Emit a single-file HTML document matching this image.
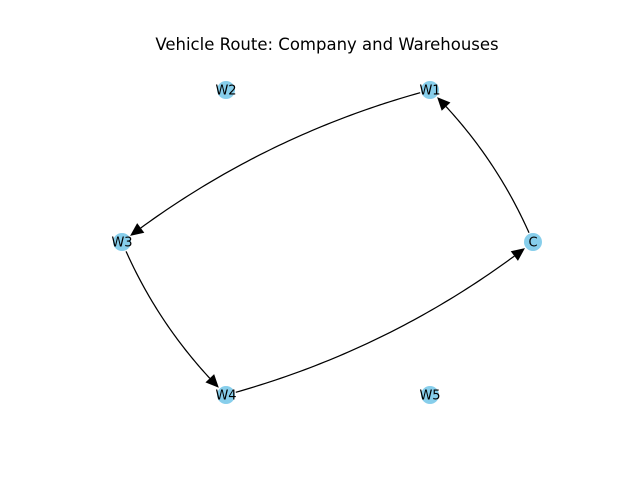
<!DOCTYPE html>
<html><head><meta charset="utf-8"><style>
body{margin:0;background:#fff}
svg{display:block}
text{font-family:"DejaVu Sans","Liberation Sans",sans-serif}
</style></head><body>
<svg id="chart" width="640" height="480" viewBox="0 0 640 480">
<rect width="640" height="480" fill="#fff"/>
<text x="327" y="50" text-anchor="middle" font-size="16.5" fill="#000">Vehicle Route: Company and Warehouses</text>
<g id="edges"></g><g id="nodes"></g>
</svg>
<script>
const nodeNames = ["C","W1","W2","W3","W4","W5"];
const nodeX = [533,430,226,122,226,430];
const nodeY = [242,90,90,242,395,395];
const edgeFrom = ["C","W1","W3","W4"];
const edgeTo = ["W1","W3","W4","C"];
const rad = 0.1;
const NS="http://www.w3.org/2000/svg";
const eg=document.getElementById('edges'), ng=document.getElementById('nodes');
function pos(n){const i=nodeNames.indexOf(n);return [nodeX[i],nodeY[i]];}
edgeFrom.forEach((f,k)=>{
  const [x1,y1]=pos(f),[x2,y2]=pos(edgeTo[k]);
  const Y1=480-y1,Y2=480-y2,dx=x2-x1,dy=Y2-Y1;
  const cx=(x1+x2)/2+rad*dy, cY=(Y1+Y2)/2-rad*dx, cy=480-cY;
  const P=t=>[(1-t)*(1-t)*x1+2*(1-t)*t*cx+t*t*x2,(1-t)*(1-t)*y1+2*(1-t)*t*cy+t*t*y2];
  let ts=0,te=1;
  for(let t=0;t<=1;t+=0.001){const p=P(t);if(Math.hypot(p[0]-x1,p[1]-y1)>=10){ts=t;break;}}
  for(let t=1;t>=0;t-=0.001){const p=P(t);if(Math.hypot(p[0]-x2,p[1]-y2)>=10){te=t;break;}}
  const tip=P(te);
  let tb=te;for(let t=te;t>=0;t-=0.001){const p=P(t);if(Math.hypot(p[0]-tip[0],p[1]-tip[1])>=13){tb=t;break;}}
  const base=P(tb);
  let pts=[];for(let i=0;i<=60;i++){const t=ts+(tb-ts)*i/60;pts.push(P(t).map(v=>v.toFixed(2)).join(','));}
  const pl=document.createElementNS(NS,'polyline');
  pl.setAttribute('points',pts.join(' '));pl.setAttribute('fill','none');pl.setAttribute('stroke','#000');pl.setAttribute('stroke-width','1.25');
  
  
  eg.appendChild(pl);
  const ux=tip[0]-base[0],uy=tip[1]-base[1],L=Math.hypot(ux,uy),nx=-uy/L*6,ny=ux/L*6;
  const ah=document.createElementNS(NS,'polygon');
  ah.setAttribute('points',`${tip[0]},${tip[1]} ${base[0]+nx},${base[1]+ny} ${base[0]-nx},${base[1]-ny}`);
  ah.setAttribute('fill','#000');
  
  
  eg.appendChild(ah);
});
nodeNames.forEach((n,i)=>{
  const c=document.createElementNS(NS,'circle');
  c.setAttribute('cx',nodeX[i]);c.setAttribute('cy',nodeY[i]);c.setAttribute('r','9');c.setAttribute('fill','#87ceeb');
  
  
  ng.appendChild(c);
  const t=document.createElementNS(NS,'text');
  t.setAttribute('x',nodeX[i]);t.setAttribute('y',nodeY[i]+4.5);t.setAttribute('text-anchor','middle');t.setAttribute('font-size','13');
  t.textContent=n;
  
  
  ng.appendChild(t);
});
</script>
</body></html>
